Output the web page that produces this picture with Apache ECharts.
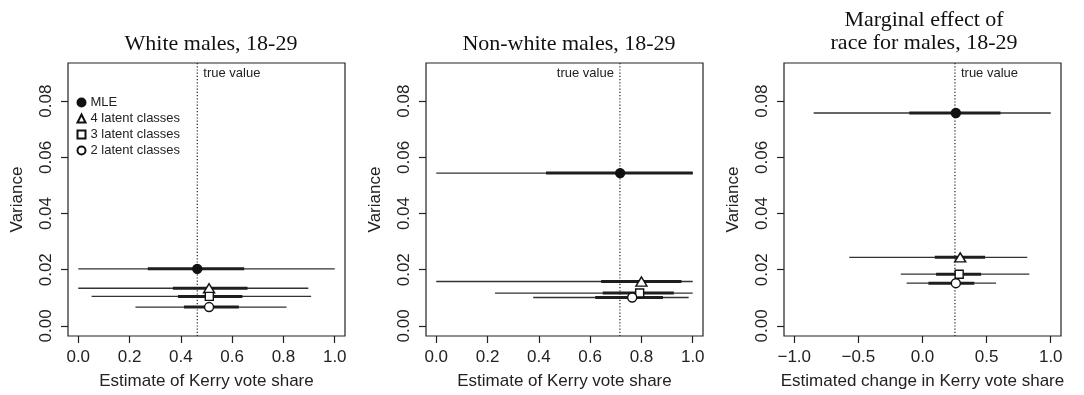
<!DOCTYPE html>
<html>
<head>
<meta charset="utf-8">
<script src="https://cdn.jsdelivr.net/npm/echarts@6/dist/echarts.min.js"></script>
<style>
html,body{margin:0;padding:0;background:#fff;}
#chart{width:1084px;height:395px;}
</style>
</head>
<body>
<div id="chart"></div>
<script>
// ---------- data ----------
const panelTitles = ['White males, 18-29', 'Non-white males, 18-29', 'Marginal effect of\nrace for males, 18-29'];
const xAxisTitles = ['Estimate of Kerry vote share', 'Estimate of Kerry vote share', 'Estimated change in Kerry vote share'];
const yAxisTitle = 'Variance';
const seriesNames = ['MLE', '4 latent classes', '3 latent classes', '2 latent classes'];
const trueValues = [0.464, 0.716, 0.253];

const xTicksShare = [0, 0.2, 0.4, 0.6, 0.8, 1.0];
const xTicksChange = [-1.0, -0.5, 0, 0.5, 1.0];
const yTicks = [0, 0.02, 0.04, 0.06, 0.08];

// White males
const whiteEst  = [0.464, 0.510, 0.511, 0.510];
const whiteVar  = [0.0203, 0.0134, 0.0105, 0.0067];
const whiteLo95 = [0.000, 0.000, 0.052, 0.223];
const whiteHi95 = [1.000, 0.897, 0.908, 0.812];
const whiteLo50 = [0.271, 0.369, 0.389, 0.412];
const whiteHi50 = [0.647, 0.660, 0.640, 0.626];

// Non-white males
const nonwhiteEst  = [0.717, 0.800, 0.793, 0.764];
const nonwhiteVar  = [0.0544, 0.0158, 0.0117, 0.0101];
const nonwhiteLo95 = [0.000, 0.000, 0.229, 0.378];
const nonwhiteHi95 = [1.000, 1.000, 1.000, 0.984];
const nonwhiteLo50 = [0.428, 0.643, 0.649, 0.620];
const nonwhiteHi50 = [1.000, 0.956, 0.926, 0.884];

// Marginal effect of race
const raceEst  = [0.260, 0.294, 0.286, 0.260];
const raceVar  = [0.0758, 0.0244, 0.0184, 0.0152];
const raceLo95 = [-0.849, -0.571, -0.169, -0.124];
const raceHi95 = [1.000, 0.817, 0.833, 0.574];
const raceLo50 = [-0.103, 0.096, 0.106, 0.046];
const raceHi50 = [0.608, 0.488, 0.457, 0.404];

// ---------- build ----------
const panels = [
  {est: whiteEst, v: whiteVar, lo95: whiteLo95, hi95: whiteHi95, lo50: whiteLo50, hi50: whiteHi50},
  {est: nonwhiteEst, v: nonwhiteVar, lo95: nonwhiteLo95, hi95: nonwhiteHi95, lo50: nonwhiteLo50, hi50: nonwhiteHi50},
  {est: raceEst, v: raceVar, lo95: raceLo95, hi95: raceHi95, lo50: raceLo50, hi50: raceHi50}
];
const gridLefts = [68, 426, 784];
const gridW = 277, gridTop = 63, gridH = 273;
const yMin = -0.0036, yMax = 0.0936;
const xRanges = [[-0.04, 1.04], [-0.04, 1.04], [-1.08, 1.08]];
const titleCenters = [206, 564, 919];
const trueLabelSide = ['right', 'left', 'right'];

const SANS = 'Liberation Sans, Arial, sans-serif';
const SERIF = 'Liberation Serif, Times New Roman, serif';
const INK = '#222';

const symbolDefs = [
  {symbol: 'circle', size: 9, fill: '#111', border: '#111'},
  {symbol: 'triangle', size: [11, 9], fill: '#fff', border: '#111'},
  {symbol: 'rect', size: 8, fill: '#fff', border: '#111'},
  {symbol: 'circle', size: 9, fill: '#fff', border: '#111'}
];

const grids = [], xAxes = [], yAxes = [], series = [], titles = [];
panels.forEach((p, i) => {
  grids.push({left: gridLefts[i], top: gridTop, width: gridW, height: gridH,
    show: true, borderColor: INK, borderWidth: 1.2, backgroundColor: 'transparent'});
  const ticks = i === 2 ? xTicksChange : xTicksShare;
  xAxes.push({
    type: 'value', gridIndex: i, min: xRanges[i][0], max: xRanges[i][1], position: 'bottom',
    name: xAxisTitles[i], nameLocation: 'middle', nameGap: 37,
    nameTextStyle: {fontFamily: SANS, fontSize: 17, color: INK},
    axisLine: {show: false, onZero: false},
    axisTick: {show: true, length: 7, customValues: ticks, lineStyle: {color: INK, width: 1.2}},
    axisLabel: {customValues: ticks, margin: 13, fontFamily: SANS, fontSize: 17, color: INK,
      formatter: v => (v < 0 ? '\u2212' : '') + Math.abs(v).toFixed(1)},
    splitLine: {show: false}
  });
  yAxes.push({
    type: 'value', gridIndex: i, min: yMin, max: yMax, position: 'left',
    name: yAxisTitle, nameLocation: 'middle', nameGap: 42, nameRotate: 90,
    nameTextStyle: {fontFamily: SANS, fontSize: 17, color: INK},
    axisLine: {show: false, onZero: false},
    axisTick: {show: true, length: 7, customValues: yTicks, lineStyle: {color: INK, width: 1.2}},
    axisLabel: {customValues: yTicks, margin: 13, rotate: 90, align: 'center', verticalAlign: 'bottom',
      fontFamily: SANS, fontSize: 17, color: INK, formatter: v => v.toFixed(2)},
    splitLine: {show: false}
  });
  titles.push({text: panelTitles[i], left: titleCenters[i], top: i === 2 ? 4 : 28, textAlign: 'center',
    textStyle: {fontFamily: SERIF, fontSize: 22, fontWeight: 'normal', color: '#111', lineHeight: 23}});

  // true value dotted line + label
  series.push({
    type: 'custom', xAxisIndex: i, yAxisIndex: i, silent: true, z: 1,
    data: [[trueValues[i]]],
    encode: {x: 0},
    renderItem: (params, api) => {
      const tv = api.value(0);
      const top = api.coord([tv, yMax]);
      const bot = api.coord([tv, yMin]);
      const right = trueLabelSide[i] === 'right';
      return {type: 'group', children: [
        {type: 'line', shape: {x1: top[0], y1: top[1], x2: bot[0], y2: bot[1]},
          style: {stroke: INK, lineWidth: 1.2, lineDash: [1.2, 2]}},
        {type: 'text', x: top[0] + (right ? 6 : -6), y: top[1] + 10,
          style: {text: 'true value', textAlign: right ? 'left' : 'right', textVerticalAlign: 'middle',
            font: '13px ' + SANS, fill: INK}}
      ]};
    }
  });

  // intervals
  const rows = p.est.map((_, k) => [p.lo95[k], p.hi95[k], p.lo50[k], p.hi50[k], p.v[k]]);
  series.push({
    type: 'custom', xAxisIndex: i, yAxisIndex: i, silent: true, z: 2,
    data: rows,
    encode: {x: [0, 1, 2, 3], y: 4},
    renderItem: (params, api) => {
      const y = api.value(4);
      const a = api.coord([api.value(0), y]), b = api.coord([api.value(1), y]);
      const c = api.coord([api.value(2), y]), d = api.coord([api.value(3), y]);
      return {type: 'group', children: [
        {type: 'line', shape: {x1: a[0], y1: a[1], x2: b[0], y2: b[1]}, style: {stroke: '#333', lineWidth: 1.3}},
        {type: 'line', shape: {x1: c[0], y1: c[1], x2: d[0], y2: d[1]}, style: {stroke: '#1e1e1e', lineWidth: 3}}
      ]};
    }
  });

  // point estimates
  seriesNames.forEach((nm, k) => {
    const s = symbolDefs[k];
    series.push({
      type: 'scatter', name: nm, xAxisIndex: i, yAxisIndex: i, z: 5,
      symbol: s.symbol, symbolSize: s.size,
      itemStyle: {color: s.fill, borderColor: s.border, borderWidth: 1.4, opacity: 1},
      data: [[p.est[k], p.v[k]]],
      emphasis: {disabled: true}
    });
  });
});

const chart = echarts.init(document.getElementById('chart'), null, {renderer: 'canvas'});
chart.setOption({
  animation: false,
  backgroundColor: '#fff',
  title: titles,
  grid: grids,
  xAxis: xAxes,
  yAxis: yAxes,
  legend: {
    data: seriesNames, orient: 'vertical', left: 76.5, top: 96, padding: 0,
    itemWidth: 8, itemHeight: 8, itemGap: 3, itemTextGap: 8,
    selectedMode: false,
    textStyle: {fontFamily: SANS, fontSize: 13, color: INK, lineHeight: 13}
  },
  series: series
});
</script>
</body>
</html>
